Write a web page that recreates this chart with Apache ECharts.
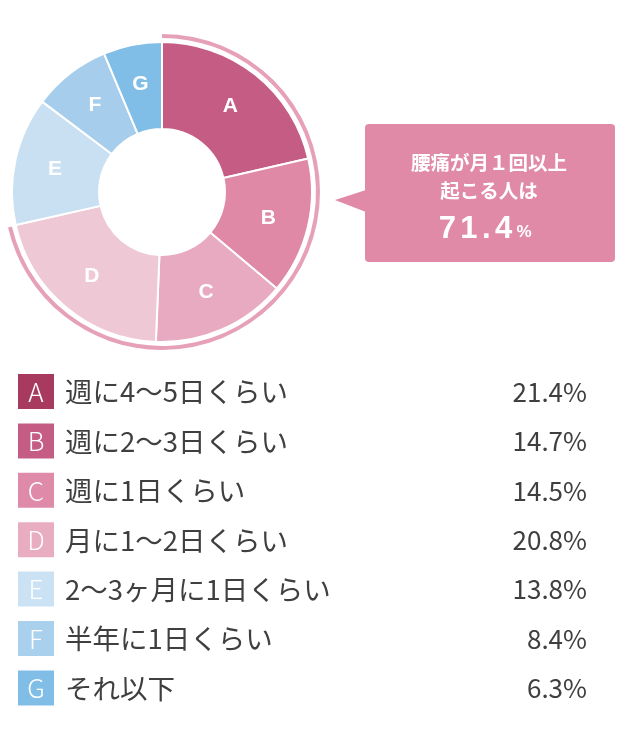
<!DOCTYPE html>
<html><head><meta charset="utf-8">
<script src="https://cdn.jsdelivr.net/npm/echarts@6/dist/echarts.min.js"></script>
<style>html,body{margin:0;padding:0;background:#fff}#c{width:630px;height:736px}</style>
</head><body><div id="c"></div>
<script>
var letters = ['A','B','C','D','E','F','G'];
var labels = ['週に4〜5日くらい','週に2〜3日くらい','週に1日くらい','月に1〜2日くらい','2〜3ヶ月に1日くらい','半年に1日くらい','それ以下'];
var values = [21.4, 14.7, 14.5, 20.8, 13.8, 8.4, 6.3];
var pieColors = ['#c45c84','#df89a7','#e8aac0','#efc8d5','#c9e0f3','#a6cdeb','#80bde7'];
var legendColors = ['#a8395f','#c45c84','#df8aa8','#e9adc2','#cbe2f4','#a9d0ed','#80bee8'];
var highlightShare = 71.4;
var calloutLines = ['腰痛が月１回以上','起こる人は'];

var chart = echarts.init(document.getElementById('c'));
var cjk = '"Noto Sans CJK JP","Noto Sans",sans-serif';
var latin = '"Liberation Sans",Arial,sans-serif';

var legendEls = [];
var rowY0 = 374, rowStep = 49.4;
for (var i = 0; i < letters.length; i++) {
  var y = rowY0 + i * rowStep;
  legendEls.push({type:'rect', shape:{x:18,y:y,width:36,height:35}, style:{fill:legendColors[i]}});
  legendEls.push({type:'text', x:36, y:y+18, style:{text:letters[i], fill:'#fff', font:'300 26px '+cjk, align:'center', verticalAlign:'middle'}});
  legendEls.push({type:'text', x:65, y:y+18, style:{text:labels[i], fill:'#3f3f3f', font:'400 27.5px '+cjk, verticalAlign:'middle'}});
  legendEls.push({type:'text', x:587, y:y+18, style:{text:values[i].toFixed(1)+'%', fill:'#3f3f3f', font:'400 26px '+cjk, align:'right', verticalAlign:'middle'}});
}

var bigNum = highlightShare.toFixed(1).split('').map(function(ch){return '{a|'+ch+'}';}).join('');
var callout = [
  {type:'rect', shape:{x:365,y:124,width:250,height:138,r:4}, style:{fill:'#e08aa7'}},
  {type:'polygon', shape:{points:[[335,200],[366,190],[366,212]]}, style:{fill:'#e08aa7'}},
  {type:'text', x:489, y:163, style:{text:calloutLines[0], fill:'#fff', font:'bold 19.5px '+cjk, align:'center', verticalAlign:'middle'}},
  {type:'text', x:489, y:191, style:{text:calloutLines[1], fill:'#fff', font:'bold 19.5px '+cjk, align:'center', verticalAlign:'middle'}},
  {type:'text', x:484, y:229, style:{rich:{
      a:{fontSize:31,fontWeight:'bold',fontFamily:latin,fill:'#fff',padding:[0,2.2]},
      b:{fontSize:17,fontWeight:'bold',fontFamily:latin,fill:'#fff',padding:[6,0,0,2]}},
    text: bigNum+'{b|%}', align:'center', verticalAlign:'middle'}}
];

chart.setOption({
  animation:false,
  series:[
    {
      type:'pie', center:[162,192], radius:[63,150], startAngle:90, clockwise:true,
      silent:true,
      itemStyle:{borderColor:'#fff', borderWidth:2},
      label:{show:true, position:'inside', formatter:'{b}', color:'#fff', fontSize:21, fontWeight:'bold', fontFamily:latin},
      labelLine:{show:false},
      data: letters.map(function(l,i){return {name:l, value:values[i], itemStyle:{color:pieColors[i]}};})
    },
    {
      type:'pie', center:[162,192], radius:[154,158], startAngle:90, clockwise:true, silent:true,
      label:{show:false}, labelLine:{show:false},
      data:[{value:highlightShare, itemStyle:{color:'#e6a1b9'}},{value:100-highlightShare, itemStyle:{color:'rgba(0,0,0,0)'}}]
    }
  ],
  graphic: callout.concat(legendEls)
});
</script></body></html>
